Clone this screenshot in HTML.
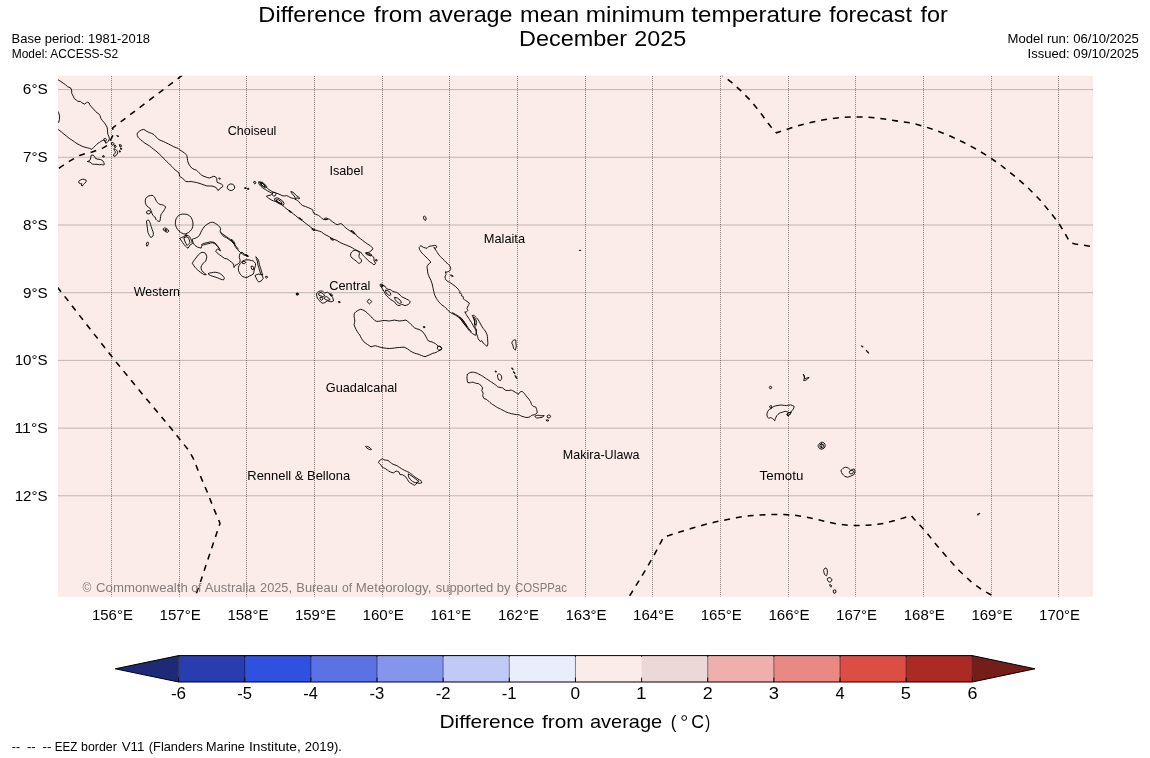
<!DOCTYPE html>
<html><head><meta charset="utf-8"><title>Difference from average mean minimum temperature forecast</title>
<style>
html,body{margin:0;padding:0;background:#fff;}
body{width:1150px;height:758px;overflow:hidden;font-family:"Liberation Sans",sans-serif;}
svg{display:block;}
svg text{font-family:"Liberation Sans",sans-serif;}
</style></head>
<body>
<svg width="1150" height="758" viewBox="0 0 1150 758">
<defs><clipPath id="mapclip"><rect x="58.0" y="75.8" width="1035.0" height="520.9"/></clipPath></defs>
<rect width="1150" height="758" fill="#fff"/>
<rect x="58.0" y="75.8" width="1035.0" height="520.9" fill="#fcece9"/>
<g clip-path="url(#mapclip)">
<line x1="58.0" x2="1093.0" y1="89.6" y2="89.6" stroke="#808080" stroke-opacity="0.5" stroke-width="1"/>
<line x1="58.0" x2="1093.0" y1="157.3" y2="157.3" stroke="#808080" stroke-opacity="0.5" stroke-width="1"/>
<line x1="58.0" x2="1093.0" y1="225.0" y2="225.0" stroke="#808080" stroke-opacity="0.5" stroke-width="1"/>
<line x1="58.0" x2="1093.0" y1="292.7" y2="292.7" stroke="#808080" stroke-opacity="0.5" stroke-width="1"/>
<line x1="58.0" x2="1093.0" y1="360.4" y2="360.4" stroke="#808080" stroke-opacity="0.5" stroke-width="1"/>
<line x1="58.0" x2="1093.0" y1="428.1" y2="428.1" stroke="#808080" stroke-opacity="0.5" stroke-width="1"/>
<line x1="58.0" x2="1093.0" y1="495.8" y2="495.8" stroke="#808080" stroke-opacity="0.5" stroke-width="1"/>
<line x1="111.5" x2="111.5" y1="76" y2="596.7" stroke="#2a2020" stroke-opacity="0.55" stroke-width="1" stroke-dasharray="1 1"/>
<line x1="179.5" x2="179.5" y1="76" y2="596.7" stroke="#2a2020" stroke-opacity="0.55" stroke-width="1" stroke-dasharray="1 1"/>
<line x1="246.5" x2="246.5" y1="76" y2="596.7" stroke="#2a2020" stroke-opacity="0.55" stroke-width="1" stroke-dasharray="1 1"/>
<line x1="314.5" x2="314.5" y1="76" y2="596.7" stroke="#2a2020" stroke-opacity="0.55" stroke-width="1" stroke-dasharray="1 1"/>
<line x1="382.5" x2="382.5" y1="76" y2="596.7" stroke="#2a2020" stroke-opacity="0.55" stroke-width="1" stroke-dasharray="1 1"/>
<line x1="449.5" x2="449.5" y1="76" y2="596.7" stroke="#2a2020" stroke-opacity="0.55" stroke-width="1" stroke-dasharray="1 1"/>
<line x1="517.5" x2="517.5" y1="76" y2="596.7" stroke="#2a2020" stroke-opacity="0.55" stroke-width="1" stroke-dasharray="1 1"/>
<line x1="585.5" x2="585.5" y1="76" y2="596.7" stroke="#2a2020" stroke-opacity="0.55" stroke-width="1" stroke-dasharray="1 1"/>
<line x1="652.5" x2="652.5" y1="76" y2="596.7" stroke="#2a2020" stroke-opacity="0.55" stroke-width="1" stroke-dasharray="1 1"/>
<line x1="720.5" x2="720.5" y1="76" y2="596.7" stroke="#2a2020" stroke-opacity="0.55" stroke-width="1" stroke-dasharray="1 1"/>
<line x1="788.5" x2="788.5" y1="76" y2="596.7" stroke="#2a2020" stroke-opacity="0.55" stroke-width="1" stroke-dasharray="1 1"/>
<line x1="855.5" x2="855.5" y1="76" y2="596.7" stroke="#2a2020" stroke-opacity="0.55" stroke-width="1" stroke-dasharray="1 1"/>
<line x1="923.5" x2="923.5" y1="76" y2="596.7" stroke="#2a2020" stroke-opacity="0.55" stroke-width="1" stroke-dasharray="1 1"/>
<line x1="991.5" x2="991.5" y1="76" y2="596.7" stroke="#2a2020" stroke-opacity="0.55" stroke-width="1" stroke-dasharray="1 1"/>
<line x1="1058.5" x2="1058.5" y1="76" y2="596.7" stroke="#2a2020" stroke-opacity="0.55" stroke-width="1" stroke-dasharray="1 1"/>
<path d="M57.0,79.1 L60.5,81.3 L63.1,83.1 L65.7,84.8 L67.4,86.6 L70.6,87.9 L71.6,90.0 L71.8,93.5 L73.2,96.1 L74.4,98.7 L76.5,100.3 L77.9,101.4 L80.5,101.4 L82.2,103.1 L84.8,104.1 L86.2,102.8 L87.5,102.1 L89.2,103.1 L89.7,104.8 L91.5,106.9 L93.6,109.2 L95.6,111.5 L97.0,112.7 L98.8,113.9 L100.0,115.6 L100.9,118.4 L102.3,120.5 L104.4,122.8 L105.7,124.9 L107.0,127.1 L107.5,129.2 L107.5,131.8 L108.0,134.5 L108.9,136.7 L109.4,138.8 L108.5,141.1 L107.1,142.5 L105.7,143.2 L105.1,141.1 L103.7,140.0 L102.3,140.6 L100.9,141.4 L99.7,142.3 L98.1,143.2 L96.7,144.4 L95.3,145.8 L93.6,147.5 L91.8,149.4 L89.7,148.4 L87.5,147.9 L84.8,147.2 L82.2,146.3 L79.6,144.9 L77.0,143.7 L74.4,141.8 L71.8,140.0 L69.2,138.3 L66.6,136.2 L63.9,134.1 L61.3,131.8 L58.7,129.8 L57.0,128.4" fill="none" stroke="#000" stroke-width="0.92" stroke-linejoin="round"/>
<path d="M57.0,110.4 L58.7,112.7 L59.6,116.2 L59.4,119.7 L58.7,122.3 L57.0,123.7" fill="none" stroke="#000" stroke-width="0.92" stroke-linejoin="round"/>
<path d="M111.3,142.8 L113.1,142.5 L114.1,143.9 L113.1,145.3 L111.7,144.9Z" fill="none" stroke="#000" stroke-width="0.92" stroke-linejoin="round"/>
<path d="M114.8,144.9 L116.2,146.0 L115.5,147.7 L114.1,147.0Z" fill="none" stroke="#000" stroke-width="0.92" stroke-linejoin="round"/>
<path d="M113.8,148.7 L115.5,149.4 L116.9,150.5 L117.9,151.9 L117.2,154.0 L115.9,155.7 L114.1,156.4 L113.4,155.0 L114.8,153.6 L115.5,151.9 L114.5,150.5Z" fill="none" stroke="#000" stroke-width="0.92" stroke-linejoin="round"/>
<path d="M119.3,144.6 L121.1,144.9 L121.4,146.7 L120.0,147.0Z" fill="none" stroke="#000" stroke-width="0.92" stroke-linejoin="round"/>
<path d="M120.4,148.0 L121.8,148.7 L121.1,149.8Z" fill="none" stroke="#000" stroke-width="0.92" stroke-linejoin="round"/>
<path d="M116.7,135.5 L118.8,136.2 L117.9,136.9Z" fill="none" stroke="#000" stroke-width="0.92" stroke-linejoin="round"/>
<path d="M119.3,150.5 L120.7,151.5 L119.7,152.2Z" fill="none" stroke="#000" stroke-width="0.92" stroke-linejoin="round"/>
<path d="M103.7,139.0 L105.4,138.3 L106.4,139.7 L105.7,141.4 L104.4,141.1Z" fill="none" stroke="#000" stroke-width="0.92" stroke-linejoin="round"/>
<path d="M91.1,155.4 L92.9,155.0 L94.6,156.6 L95.6,158.5 L97.9,159.2 L100.5,159.5 L102.6,160.6 L103.7,162.3 L104.4,164.4 L103.0,165.1 L101.6,164.4 L99.7,164.8 L97.0,164.3 L94.4,164.3 L92.5,164.1 L91.1,163.0 L89.7,162.0 L87.3,161.5 L89.4,160.8 L90.4,159.2 L90.8,157.1Z" fill="none" stroke="#000" stroke-width="0.92" stroke-linejoin="round"/>
<path d="M102.3,156.1 L104.0,155.7 L104.4,156.8 L103.0,157.1Z" fill="none" stroke="#000" stroke-width="0.92" stroke-linejoin="round"/>
<path d="M78.6,181.5 L80.3,180.1 L82.4,179.2 L84.5,179.4 L86.1,180.1 L86.2,181.7 L84.8,183.2 L83.4,184.6 L82.4,186.0 L81.0,185.0 L82.1,183.9 L80.3,183.6 L78.9,182.9Z" fill="none" stroke="#000" stroke-width="0.92" stroke-linejoin="round"/>
<path d="M137.1,133.8 L138.3,132.0 L139.9,130.8 L141.6,129.9 L143.4,129.4 L145.1,130.1 L146.2,131.0 L147.9,131.8 L149.7,132.7 L151.7,133.4 L153.8,134.5 L155.2,135.9 L156.3,137.2 L157.7,138.6 L159.1,139.7 L161.1,140.6 L163.2,141.4 L165.7,142.6 L168.5,144.0 L171.1,145.3 L173.7,146.7 L176.1,147.7 L178.2,148.4 L179.6,149.8 L181.0,150.7 L182.8,151.9 L184.5,152.9 L185.9,154.3 L186.9,155.7 L187.3,158.2 L187.6,160.6 L188.3,163.0 L189.4,165.1 L190.8,166.9 L192.2,168.4 L194.3,169.5 L196.3,170.2 L197.7,171.4 L199.1,172.8 L200.5,174.2 L201.9,175.4 L204.0,176.3 L206.1,177.1 L207.8,177.7 L209.6,178.0 L211.7,177.1 L213.8,176.3 L215.5,176.8 L216.6,178.2 L216.9,180.5 L217.2,182.4 L219.3,183.2 L221.4,184.1 L222.8,185.3 L222.5,186.9 L221.1,187.8 L219.9,188.5 L219.0,189.9 L217.9,190.4 L216.9,188.8 L216.2,187.6 L214.1,186.7 L212.0,186.0 L209.4,186.0 L206.8,185.9 L204.2,185.0 L201.6,184.1 L199.0,183.2 L196.3,182.5 L193.7,182.0 L191.1,181.5 L188.5,181.7 L185.9,181.5 L184.1,179.8 L182.4,178.2 L180.7,177.1 L179.6,176.1 L179.3,174.2 L178.9,172.8 L177.2,171.4 L175.4,170.2 L173.7,168.4 L172.0,166.7 L170.2,164.9 L168.5,163.2 L166.7,161.5 L165.0,159.7 L163.2,158.0 L161.5,156.2 L159.8,154.5 L158.0,152.8 L155.9,151.0 L153.7,149.3 L151.4,147.5 L149.3,145.8 L147.0,144.4 L144.9,143.2 L142.7,141.4 L140.6,139.7 L139.0,138.3 L138.0,137.1 L137.3,135.5Z" fill="none" stroke="#000" stroke-width="0.92" stroke-linejoin="round"/>
<path d="M218.6,178.0 L220.4,178.4 L219.7,179.4Z" fill="none" stroke="#000" stroke-width="0.92" stroke-linejoin="round"/>
<path d="M227.7,185.7 L229.1,184.5 L230.8,183.9 L232.6,184.3 L234.0,185.3 L234.7,187.1 L234.3,188.8 L232.9,190.0 L231.2,190.6 L229.4,190.2 L228.0,189.2 L227.2,187.6Z" fill="none" stroke="#000" stroke-width="0.92" stroke-linejoin="round"/>
<path d="M244.4,187.8 L245.8,187.4 L246.2,188.5 L244.8,188.6Z" fill="none" stroke="#000" stroke-width="0.92" stroke-linejoin="round"/>
<path d="M247.2,188.5 L248.6,188.1 L249.0,189.2 L247.6,189.5Z" fill="none" stroke="#000" stroke-width="0.92" stroke-linejoin="round"/>
<path d="M258.7,181.7 L260.5,182.1 L262.2,183.1 L263.9,184.8 L265.7,186.6 L267.4,188.3 L269.2,189.7 L271.3,191.1 L273.5,192.3 L275.8,193.0 L277.9,193.6 L280.0,194.6 L282.2,195.6 L284.5,196.0 L286.6,195.6 L288.3,196.3 L290.1,197.4 L291.8,198.1 L293.6,198.4 L294.9,199.1 L296.3,199.8 L297.7,200.7 L298.8,201.6 L300.5,203.7 L302.3,205.4 L304.0,206.1 L305.7,206.6 L307.8,207.5 L310.1,208.4 L311.7,209.1 L312.7,210.1 L313.1,211.7 L313.6,213.1 L315.3,214.1 L317.1,214.8 L318.5,215.5 L319.7,216.2 L321.1,217.6 L322.3,218.8 L324.0,219.5 L325.8,219.7 L327.2,219.0 L328.4,218.8 L329.8,219.5 L331.0,220.6 L332.8,222.0 L334.5,223.2 L335.7,224.0 L337.1,224.6 L338.9,224.2 L340.6,223.5 L342.0,224.2 L343.2,225.3 L344.6,226.7 L345.8,228.0 L347.6,229.3 L349.3,230.5 L351.0,231.4 L352.8,231.9 L354.2,232.9 L355.4,234.0 L356.3,235.0 L357.1,236.2 L358.9,237.6 L360.6,238.9 L362.4,240.2 L364.1,241.5 L365.9,242.9 L367.6,244.1 L369.0,244.9 L370.2,245.8 L371.6,247.0 L373.0,248.4 L372.0,250.0 L370.9,251.0 L369.7,251.9 L368.5,252.4 L367.1,252.8 L365.7,252.8 L367.1,253.8 L368.5,254.5 L369.9,254.9 L371.3,255.4 L372.5,256.3 L373.7,257.1 L374.0,258.9 L374.0,260.6 L374.7,262.0 L375.6,263.2 L374.9,264.3 L373.9,264.8 L372.8,263.9 L372.0,263.2 L370.6,262.4 L369.3,261.5 L367.9,260.3 L366.7,258.9 L365.3,257.5 L364.1,256.3 L363.2,255.4 L362.4,254.5 L361.8,253.7 L361.5,252.8 L360.1,252.1 L358.9,251.4 L356.6,250.3 L354.5,249.3 L352.4,247.9 L350.2,246.7 L347.9,245.8 L345.8,244.9 L343.7,244.1 L341.5,243.2 L339.2,242.0 L337.1,240.6 L335.0,239.7 L332.8,238.9 L331.0,237.8 L329.3,236.8 L327.0,235.5 L324.9,234.5 L323.2,233.3 L321.4,231.9 L319.3,231.2 L317.1,230.5 L315.3,230.0 L313.6,229.3 L311.8,228.0 L310.1,226.7 L308.4,225.4 L306.6,224.0 L304.4,222.3 L302.3,220.6 L300.5,219.3 L298.8,218.3 L297.0,216.9 L295.3,215.3 L293.6,214.1 L291.8,212.7 L290.1,211.3 L288.3,210.1 L286.6,208.9 L284.8,207.5 L283.4,206.1 L282.2,204.9 L280.5,203.5 L278.7,202.3 L277.0,201.7 L275.3,201.4 L273.5,200.9 L271.8,200.2 L270.0,199.1 L268.3,197.9 L267.2,197.0 L266.4,196.2 L268.1,195.6 L270.0,195.3 L271.4,194.6 L272.8,193.6 L270.9,192.7 L269.2,191.8 L267.4,190.8 L265.7,189.7 L263.9,188.7 L262.2,187.5 L260.8,186.2 L259.6,184.8 L258.7,183.1Z" fill="none" stroke="#000" stroke-width="0.92" stroke-linejoin="round"/>
<path d="M259.8,182.4 L262.2,182.1 L264.6,184.1 L266.7,186.6 L265.7,188.0 L263.2,186.6 L260.8,184.8Z" fill="none" stroke="#000" stroke-width="0.92" stroke-linejoin="round"/>
<path d="M260.8,183.4 L262.9,183.4 L265.0,185.5 L264.3,186.9 L262.2,185.5Z" fill="none" stroke="#000" stroke-width="0.92" stroke-linejoin="round"/>
<path d="M253.8,181.7 L255.2,181.4 L255.9,182.8 L254.9,184.1 L253.8,183.1Z" fill="none" stroke="#000" stroke-width="0.92" stroke-linejoin="round"/>
<path d="M274.4,198.8 L277.0,197.7 L280.0,199.1 L282.8,201.2 L284.1,203.7 L283.1,205.4 L280.7,204.4 L277.9,203.0 L275.4,201.2Z" fill="none" stroke="#000" stroke-width="0.92" stroke-linejoin="round"/>
<path d="M276.1,199.8 L278.6,199.8 L281.4,201.9 L282.1,203.7 L279.6,203.0 L277.2,201.6Z" fill="none" stroke="#000" stroke-width="0.92" stroke-linejoin="round"/>
<path d="M272.6,192.5 L274.7,192.2 L276.1,193.6 L275.4,195.6 L273.7,196.3 L272.3,194.6Z" fill="none" stroke="#000" stroke-width="0.92" stroke-linejoin="round"/>
<path d="M290.8,191.5 L292.9,192.2 L294.9,193.9 L296.3,195.6 L298.1,196.7 L299.8,198.1 L298.8,198.8 L296.7,197.7 L295.6,199.1 L294.9,197.0 L293.2,194.9 L291.5,192.9Z" fill="none" stroke="#000" stroke-width="0.92" stroke-linejoin="round"/>
<path d="M288.7,210.3 L290.4,211.0 L291.5,212.4 L289.7,212.0Z" fill="none" stroke="#000" stroke-width="0.92" stroke-linejoin="round"/>
<path d="M298.8,217.6 L300.9,218.6 L302.3,220.0 L300.5,219.7Z" fill="none" stroke="#000" stroke-width="0.92" stroke-linejoin="round"/>
<path d="M311.7,228.7 L313.8,229.1 L315.2,230.1 L313.1,230.5Z" fill="none" stroke="#000" stroke-width="0.92" stroke-linejoin="round"/>
<path d="M330.5,238.5 L332.6,238.9 L333.6,240.2 L331.5,239.9Z" fill="none" stroke="#000" stroke-width="0.92" stroke-linejoin="round"/>
<path d="M324.6,218.3 L326.7,217.9 L327.7,219.3 L325.6,219.7Z" fill="none" stroke="#000" stroke-width="0.92" stroke-linejoin="round"/>
<path d="M351.0,230.5 L353.1,231.2 L354.2,232.6 L355.2,234.0 L353.5,233.6 L351.7,232.2Z" fill="none" stroke="#000" stroke-width="0.92" stroke-linejoin="round"/>
<path d="M375.4,259.8 L376.8,259.4 L377.2,260.8 L375.8,261.1Z" fill="none" stroke="#000" stroke-width="0.92" stroke-linejoin="round"/>
<path d="M352.8,251.0 L354.2,250.5 L355.6,250.3 L357.0,250.7 L358.2,251.2 L359.1,252.3 L359.4,253.7 L359.1,255.1 L358.9,256.3 L359.4,257.7 L360.3,258.9 L361.5,259.8 L361.5,261.1 L360.8,262.4 L359.8,263.2 L358.4,263.2 L357.3,262.2 L356.3,261.1 L354.9,260.1 L353.5,259.1 L352.1,258.0 L351.0,256.6 L350.5,255.2 L350.7,253.8 L351.4,252.4Z" fill="none" stroke="#000" stroke-width="0.92" stroke-linejoin="round"/>
<path d="M365.7,253.1 L367.8,252.8 L370.2,253.8 L372.0,255.2 L370.6,255.9 L368.5,255.2 L366.7,254.5Z" fill="none" stroke="#000" stroke-width="0.92" stroke-linejoin="round"/>
<path d="M423.5,216.6 L424.7,216.2 L425.8,217.2 L426.1,219.0 L425.6,220.4 L424.4,220.0 L423.7,218.6Z" fill="none" stroke="#000" stroke-width="0.92" stroke-linejoin="round"/>
<path d="M145.8,198.3 L147.2,196.9 L148.7,196.0 L150.5,195.5 L152.2,195.3 L153.4,196.0 L154.5,197.1 L155.2,198.5 L155.7,200.0 L156.6,201.4 L157.5,202.6 L158.7,203.7 L160.1,204.4 L161.8,204.7 L163.6,205.3 L164.8,206.0 L165.6,207.0 L165.1,208.4 L164.4,209.6 L163.6,211.0 L162.7,212.2 L161.8,213.4 L160.9,214.8 L160.6,216.6 L160.4,218.3 L160.1,220.1 L159.7,221.5 L158.5,221.3 L157.5,220.9 L156.6,220.1 L155.7,219.2 L155.5,217.5 L154.0,216.6 L153.1,215.4 L152.2,214.0 L151.5,212.2 L151.0,210.5 L150.3,209.1 L149.6,207.9 L148.2,207.2 L147.0,206.1 L146.0,204.6 L145.3,202.6 L145.3,200.4Z" fill="none" stroke="#000" stroke-width="0.92" stroke-linejoin="round"/>
<path d="M146.5,211.7 L147.9,210.7 L149.6,210.7 L150.7,212.1 L150.0,213.4 L148.2,214.0 L146.7,213.3Z" fill="none" stroke="#000" stroke-width="0.92" stroke-linejoin="round"/>
<path d="M146.5,220.9 L147.5,220.2 L148.7,220.1 L149.4,221.3 L150.0,222.7 L150.5,224.4 L151.0,226.2 L151.7,227.9 L152.2,229.7 L152.9,231.4 L153.4,233.1 L153.3,234.7 L152.8,236.1 L151.9,237.0 L151.0,237.5 L150.0,236.6 L149.3,235.4 L148.6,233.8 L147.9,232.3 L147.7,230.5 L147.5,228.8 L147.2,226.9 L147.0,224.9 L146.7,222.9Z" fill="none" stroke="#000" stroke-width="0.92" stroke-linejoin="round"/>
<path d="M146.7,242.7 L147.9,242.0 L148.6,243.4 L147.9,245.5 L146.8,246.2 L146.3,244.5Z" fill="none" stroke="#000" stroke-width="0.92" stroke-linejoin="round"/>
<path d="M163.2,228.8 L164.6,227.9 L166.3,228.3 L167.9,229.5 L168.8,231.2 L167.7,232.3 L166.0,231.9 L164.4,231.0 L163.4,230.0Z" fill="none" stroke="#000" stroke-width="0.92" stroke-linejoin="round"/>
<path d="M164.9,229.5 L166.3,229.5 L167.0,230.9 L165.6,230.9Z" fill="none" stroke="#000" stroke-width="0.92" stroke-linejoin="round"/>
<path d="M184.1,214.1 L186.2,214.3 L187.9,214.8 L189.7,215.9 L191.1,217.5 L192.1,219.5 L192.8,221.8 L193.0,224.1 L192.8,226.2 L192.3,228.1 L191.4,229.7 L190.2,231.0 L188.8,232.3 L187.1,233.3 L185.3,234.0 L183.6,233.8 L181.8,233.1 L180.3,232.1 L178.9,230.9 L177.7,229.5 L176.6,227.9 L175.9,226.2 L175.4,224.4 L175.4,222.2 L175.7,220.1 L176.4,218.2 L177.5,216.6 L178.9,215.4 L180.6,214.5 L182.4,214.1Z" fill="none" stroke="#000" stroke-width="0.92" stroke-linejoin="round"/>
<path d="M179.6,238.4 L181.7,237.5 L183.8,236.6 L185.5,235.7 L187.2,235.4 L188.6,235.9 L189.7,236.8 L190.6,238.4 L191.4,240.1 L192.0,241.8 L192.3,243.6 L191.1,244.5 L189.7,245.3 L189.0,246.7 L188.1,248.1 L186.9,247.6 L185.5,246.2 L184.1,244.5 L182.7,242.7 L181.8,241.3 L181.0,240.1Z" fill="none" stroke="#000" stroke-width="0.92" stroke-linejoin="round"/>
<path d="M183.8,237.8 L186.2,236.8 L188.3,237.5 L189.3,239.9 L190.0,242.7 L188.6,244.1 L187.2,245.5 L185.9,243.4 L184.8,241.0Z" fill="none" stroke="#000" stroke-width="0.92" stroke-linejoin="round"/>
<path d="M184.8,235.4 L186.2,234.7 L187.2,235.4 L186.2,236.1Z" fill="none" stroke="#000" stroke-width="0.92" stroke-linejoin="round"/>
<path d="M192.3,239.2 L193.5,238.7 L194.9,238.4 L196.7,237.5 L198.4,236.6 L199.6,235.1 L200.5,233.1 L201.5,230.9 L202.8,228.8 L204.0,227.0 L205.4,225.6 L207.1,224.3 L208.9,223.2 L210.6,222.5 L212.3,222.2 L214.1,222.7 L215.5,223.6 L217.0,224.4 L218.4,225.6 L219.7,227.0 L220.7,228.8 L220.2,230.5 L220.3,232.3 L221.6,234.0 L222.8,235.7 L224.5,236.8 L226.3,237.5 L228.0,238.7 L229.8,240.1 L231.5,241.3 L233.2,242.7 L234.3,244.5 L235.0,246.2 L236.2,247.9 L237.6,249.7 L239.0,251.1 L240.2,252.3 L242.0,253.7 L243.7,254.9 L245.8,255.6 L248.0,256.0 L246.1,254.9 L244.0,253.9 L242.0,252.1 L240.2,253.2 L239.5,255.3 L239.3,257.5 L239.9,259.3 L240.2,261.0 L239.5,262.4 L238.5,263.6 L236.7,264.7 L235.0,265.4 L234.6,266.6 L234.1,267.5 L233.6,265.5 L233.2,263.6 L231.5,262.2 L229.8,261.0 L228.9,260.1 L228.0,259.3 L226.3,258.7 L224.5,258.4 L222.8,257.2 L221.0,255.8 L219.7,254.9 L218.4,254.0 L217.0,252.8 L215.8,251.4 L216.5,249.9 L217.6,248.8 L219.0,249.9 L220.5,250.9 L219.5,249.0 L218.4,247.1 L217.2,245.7 L215.8,244.5 L214.1,243.4 L212.3,242.7 L210.6,243.1 L208.9,243.6 L207.1,243.9 L205.4,244.5 L203.6,244.8 L201.9,245.3 L201.5,246.7 L201.2,248.1 L199.3,247.6 L197.5,247.1 L196.1,246.2 L194.9,245.3 L193.9,244.1 L193.2,242.7 L192.6,241.0Z" fill="none" stroke="#000" stroke-width="0.92" stroke-linejoin="round"/>
<path d="M201.2,244.8 L203.6,243.4 L207.1,242.7 L210.6,241.8 L214.1,242.4 L216.2,244.1 L217.6,246.6 L219.3,248.6" fill="none" stroke="#000" stroke-width="0.92" stroke-linejoin="round"/>
<path d="M220.7,232.3 L223.1,234.4 L226.6,236.8 L230.5,239.6 L233.6,242.4 L235.7,245.9 L238.5,249.3" fill="none" stroke="#000" stroke-width="0.92" stroke-linejoin="round"/>
<path d="M231.5,239.2 L233.6,241.3 L235.0,243.8 L233.2,243.1 L231.8,241.0Z" fill="none" stroke="#000" stroke-width="0.92" stroke-linejoin="round"/>
<path d="M238.5,267.1 L239.2,265.4 L240.2,263.6 L241.4,262.2 L242.8,261.0 L244.6,260.1 L246.3,259.8 L248.0,259.8 L249.8,260.1 L251.5,260.5 L253.3,261.0 L254.5,262.2 L255.5,263.6 L255.5,265.4 L255.0,267.1 L254.5,268.9 L254.1,270.6 L253.8,272.3 L253.3,274.1 L251.5,275.1 L249.8,275.8 L248.0,276.9 L246.3,277.6 L244.6,277.2 L242.8,276.7 L241.4,275.5 L240.2,274.1 L239.2,272.3 L238.5,270.6 L238.3,268.9Z" fill="none" stroke="#000" stroke-width="0.92" stroke-linejoin="round"/>
<path d="M242.0,261.9 L244.0,261.2 L245.8,262.2 L244.7,263.6 L242.6,263.6Z" fill="none" stroke="#000" stroke-width="0.92" stroke-linejoin="round"/>
<path d="M251.0,266.4 L252.8,266.1 L253.8,267.8 L253.1,269.9 L251.7,269.2Z" fill="none" stroke="#000" stroke-width="0.92" stroke-linejoin="round"/>
<path d="M255.0,275.5 L256.8,274.6 L258.5,274.1 L260.4,274.4 L262.0,274.9 L262.7,276.7 L263.2,278.4 L262.2,279.8 L261.1,281.0 L259.7,281.6 L258.5,281.9 L257.6,280.7 L256.8,279.3 L255.9,277.4Z" fill="none" stroke="#000" stroke-width="0.92" stroke-linejoin="round"/>
<path d="M255.9,256.7 L257.3,258.4 L258.5,260.1 L259.0,262.2 L259.4,264.5 L260.1,266.8 L260.8,268.9 L261.5,271.1 L262.0,273.2 L262.9,274.9 L261.6,274.6 L260.8,274.1 L260.1,272.0 L259.4,269.7 L258.7,267.5 L258.0,265.4 L257.6,263.1 L257.3,261.0 L256.4,258.7Z" fill="none" stroke="#000" stroke-width="0.92" stroke-linejoin="round"/>
<path d="M265.6,276.5 L267.0,276.2 L267.7,277.2 L266.7,278.1 L265.6,277.6Z" fill="none" stroke="#000" stroke-width="0.92" stroke-linejoin="round"/>
<path d="M245.8,254.9 L247.5,255.3 L248.6,256.3 L246.8,256.3Z" fill="none" stroke="#000" stroke-width="0.92" stroke-linejoin="round"/>
<path d="M192.3,263.3 L193.5,261.2 L194.9,259.3 L196.7,257.0 L198.4,254.9 L200.1,253.3 L201.9,252.3 L203.8,252.5 L205.4,253.2 L206.2,254.9 L206.8,256.7 L206.4,258.9 L205.7,261.0 L204.3,262.4 L202.8,263.6 L201.7,265.4 L201.0,267.1 L201.2,268.9 L201.9,270.6 L203.1,272.0 L204.5,273.2 L205.5,273.9 L206.4,274.6 L205.0,274.8 L203.6,274.4 L202.1,273.4 L200.5,272.3 L198.9,271.1 L197.5,269.7 L196.1,268.5 L194.9,267.1 L193.5,265.2Z" fill="none" stroke="#000" stroke-width="0.92" stroke-linejoin="round"/>
<path d="M208.0,273.7 L209.7,273.0 L211.5,272.7 L213.6,272.3 L215.8,272.3 L217.6,272.7 L219.3,273.2 L220.7,274.1 L221.9,274.9 L223.1,276.2 L224.2,277.6 L224.2,278.8 L223.7,279.7 L222.3,279.7 L221.0,279.3 L219.3,278.6 L217.6,277.9 L215.8,277.2 L214.1,276.7 L212.3,276.2 L210.6,275.5 L209.2,274.8Z" fill="none" stroke="#000" stroke-width="0.92" stroke-linejoin="round"/>
<path d="M296.3,293.6 L297.7,293.2 L298.6,294.3 L297.4,295.2 L296.3,294.6Z" fill="none" stroke="#000" stroke-width="0.92" stroke-linejoin="round"/>
<path d="M354.5,313.1 L355.7,311.9 L357.1,310.9 L358.8,310.0 L360.6,309.3 L362.3,309.7 L364.0,310.5 L365.8,311.7 L367.5,313.1 L369.3,314.9 L371.0,316.6 L372.2,318.0 L373.6,319.2 L374.8,320.5 L376.2,321.3 L378.3,321.3 L380.6,321.0 L382.7,320.6 L384.9,320.5 L387.0,320.8 L389.3,321.0 L391.9,320.5 L394.5,320.1 L397.1,320.6 L399.8,321.0 L402.7,320.6 L405.9,320.1 L407.6,321.3 L409.3,322.7 L410.6,324.1 L412.0,325.3 L413.2,326.7 L414.6,327.9 L416.7,328.8 L418.9,329.3 L420.7,330.4 L422.4,331.4 L423.8,333.2 L425.0,334.9 L425.9,336.7 L426.8,338.4 L427.6,339.8 L428.5,341.0 L430.2,341.5 L432.0,341.9 L433.7,342.8 L435.5,343.6 L436.9,345.0 L438.1,346.2 L439.5,346.4 L440.9,346.9 L441.7,348.2 L441.6,349.5 L440.2,350.2 L439.0,350.6 L437.6,351.5 L436.3,352.3 L434.6,352.9 L432.9,353.2 L431.1,354.1 L429.4,354.9 L427.1,355.8 L425.0,356.7 L423.3,356.2 L421.5,355.5 L419.8,354.8 L418.0,354.1 L416.3,353.6 L414.6,353.2 L412.8,352.3 L411.1,351.5 L409.3,350.2 L407.6,348.9 L405.9,348.0 L404.1,347.1 L401.8,347.3 L399.8,347.5 L397.1,347.6 L394.5,348.0 L391.9,348.3 L389.3,348.5 L386.7,348.3 L384.1,348.0 L381.8,347.6 L379.7,347.1 L377.5,346.4 L375.4,345.7 L373.1,346.2 L371.0,346.8 L369.3,345.7 L367.5,344.5 L365.8,343.3 L364.0,341.9 L362.6,340.1 L361.4,338.4 L360.6,336.7 L359.7,334.9 L358.3,333.2 L357.1,331.4 L356.2,329.7 L355.3,327.9 L354.6,326.2 L354.1,324.5 L354.5,322.7 L354.8,321.0 L354.5,318.7 L354.1,316.6 L354.1,314.9Z" fill="none" stroke="#000" stroke-width="0.92" stroke-linejoin="round"/>
<path d="M437.4,346.8 L439.1,346.1 L440.9,346.9 L441.6,348.5 L440.5,349.9 L438.8,350.1 L437.4,348.9Z" fill="none" stroke="#000" stroke-width="0.92" stroke-linejoin="round"/>
<path d="M316.5,294.0 L317.5,292.4 L318.7,291.4 L320.5,291.0 L322.2,291.0 L323.6,292.1 L324.8,293.1 L326.2,292.6 L327.5,292.2 L329.2,293.4 L330.9,294.8 L331.8,296.2 L332.7,297.5 L333.2,299.2 L333.6,300.9 L332.2,301.5 L330.9,301.8 L329.2,301.3 L327.5,300.9 L326.1,301.8 L324.8,302.7 L323.4,303.0 L322.2,303.2 L320.8,302.2 L319.6,300.9 L318.6,299.7 L317.5,298.3 L316.8,296.2Z" fill="none" stroke="#000" stroke-width="0.92" stroke-linejoin="round"/>
<path d="M318.6,293.4 L321.0,292.4 L323.1,293.8 L324.8,295.5 L322.8,296.6 L320.7,295.9 L318.9,295.2Z" fill="none" stroke="#000" stroke-width="0.92" stroke-linejoin="round"/>
<path d="M324.1,297.3 L326.6,296.6 L328.7,298.0 L330.1,299.7 L328.0,300.4 L325.9,299.7 L324.5,298.7Z" fill="none" stroke="#000" stroke-width="0.92" stroke-linejoin="round"/>
<path d="M320.0,297.3 L322.1,297.3 L323.1,299.0 L321.4,300.4 L320.0,299.0Z" fill="none" stroke="#000" stroke-width="0.92" stroke-linejoin="round"/>
<path d="M329.7,294.1 L331.5,293.8 L332.5,295.5 L331.1,296.2Z" fill="none" stroke="#000" stroke-width="0.92" stroke-linejoin="round"/>
<path d="M338.4,301.5 L339.8,301.5 L340.2,302.5 L338.8,302.7Z" fill="none" stroke="#000" stroke-width="0.92" stroke-linejoin="round"/>
<path d="M296.3,293.4 L298.0,293.1 L298.4,294.5 L296.6,294.8Z" fill="none" stroke="#000" stroke-width="0.92" stroke-linejoin="round"/>
<path d="M369.3,299.2 L370.5,300.2 L371.7,301.5 L370.7,302.9 L369.4,303.9 L368.2,302.9 L367.2,301.6 L368.0,300.2Z" fill="none" stroke="#000" stroke-width="0.92" stroke-linejoin="round"/>
<path d="M381.5,285.3 L383.2,285.6 L384.9,286.1 L385.8,287.5 L386.7,288.7 L388.4,289.3 L390.2,289.6 L391.6,290.5 L392.8,291.4 L394.5,291.9 L396.3,292.2 L397.7,293.1 L398.9,294.0 L400.3,295.2 L401.5,296.6 L403.2,297.5 L405.0,298.3 L406.7,299.2 L408.5,300.1 L409.5,300.9 L410.2,301.8 L409.5,303.2 L408.5,304.4 L406.7,305.1 L405.0,305.6 L403.2,304.9 L401.5,304.4 L400.3,305.1 L398.9,305.6 L397.5,305.1 L396.3,304.4 L395.4,303.0 L394.5,301.8 L392.8,300.8 L391.0,299.7 L389.7,298.7 L388.4,297.5 L387.0,296.2 L385.8,294.8 L384.9,293.1 L384.1,291.4 L383.2,290.0 L382.3,288.7 L381.6,287.0Z" fill="none" stroke="#000" stroke-width="0.92" stroke-linejoin="round"/>
<path d="M385.5,290.0 L387.9,290.7 L390.0,292.4 L391.0,294.5 L389.3,295.5 L387.2,294.1 L385.8,292.1Z" fill="none" stroke="#000" stroke-width="0.92" stroke-linejoin="round"/>
<path d="M394.5,297.3 L397.3,298.0 L400.1,300.1 L401.5,302.5 L399.4,303.6 L397.0,301.8 L395.2,299.7Z" fill="none" stroke="#000" stroke-width="0.92" stroke-linejoin="round"/>
<path d="M380.2,284.4 L382.3,284.0 L383.4,285.8 L381.6,287.2 L380.2,286.1Z" fill="none" stroke="#000" stroke-width="0.92" stroke-linejoin="round"/>
<path d="M423.3,326.6 L424.8,326.6 L425.0,327.6 L423.4,327.6Z" fill="none" stroke="#000" stroke-width="0.92" stroke-linejoin="round"/>
<path d="M419.2,247.4 L420.0,246.4 L420.9,245.7 L422.1,246.5 L423.5,247.4 L425.2,247.9 L427.0,248.3 L427.9,247.4 L428.7,246.5 L429.9,246.2 L431.3,246.0 L433.1,245.7 L434.8,245.3 L436.0,245.8 L436.9,246.5 L436.4,247.6 L435.7,248.3 L434.8,247.8 L433.9,247.4 L434.8,248.8 L435.7,250.0 L436.6,251.4 L437.4,252.6 L438.3,254.0 L439.2,255.2 L440.4,256.6 L441.8,257.9 L443.0,259.2 L444.4,260.5 L445.6,261.9 L447.0,263.1 L448.4,264.5 L449.6,265.7 L450.3,267.1 L450.8,268.3 L450.3,269.7 L449.6,270.9 L448.2,271.6 L447.0,272.1 L446.1,272.0 L445.3,271.8 L445.8,273.2 L446.1,274.4 L445.4,275.8 L444.9,277.0 L445.3,278.4 L445.6,279.6 L446.7,280.5 L447.9,281.4 L448.7,281.9 L449.6,282.2 L450.8,283.1 L452.2,284.0 L454.0,285.4 L455.7,286.6 L456.9,288.0 L458.3,289.2 L459.2,290.6 L460.1,291.8 L459.5,293.0 L460.9,293.5 L461.8,294.4 L461.3,295.8 L462.7,296.2 L463.5,297.0 L463.0,298.4 L464.4,299.6 L465.6,300.5 L467.0,301.4 L468.1,302.2 L469.3,303.1 L468.8,304.5 L468.2,305.7 L467.5,307.1 L467.0,308.3 L467.4,309.4 L467.9,310.4 L467.0,311.3 L466.2,312.2 L465.5,312.0 L464.8,311.8 L465.5,313.2 L466.2,314.4 L467.0,315.8 L467.9,317.0 L468.8,318.4 L469.6,319.7 L470.5,321.1 L471.4,322.3 L472.2,323.8 L473.1,325.4 L474.0,327.0 L474.9,328.4 L475.6,330.1 L476.3,331.8 L476.1,333.6 L475.7,335.3 L474.9,335.0 L474.0,334.5 L472.6,333.6 L471.4,332.7 L470.0,331.5 L468.8,330.1 L467.4,328.4 L466.2,326.6 L464.8,324.9 L463.5,323.1 L462.2,321.4 L460.9,319.7 L459.5,318.3 L458.3,317.0 L456.9,316.2 L455.7,315.3 L454.0,314.4 L452.2,313.6 L450.8,312.7 L449.6,311.8 L448.2,310.6 L447.0,309.2 L445.6,307.8 L444.4,306.6 L443.0,305.7 L441.8,304.9 L440.4,303.6 L439.2,302.2 L437.8,300.5 L436.6,298.8 L435.7,297.0 L434.8,295.3 L434.3,293.5 L433.9,291.8 L433.4,290.1 L433.1,288.3 L432.6,286.2 L432.2,284.0 L431.5,282.2 L431.0,280.5 L430.1,278.7 L429.2,277.0 L428.6,275.3 L427.9,273.5 L427.7,271.8 L427.5,270.0 L427.2,268.3 L427.0,266.6 L427.9,265.2 L428.7,263.9 L429.8,263.1 L431.0,262.2 L429.8,261.0 L428.7,259.6 L427.3,258.4 L426.1,257.0 L424.7,255.8 L423.5,254.4 L422.1,253.2 L420.9,251.8 L420.2,250.5 L419.5,249.5Z" fill="none" stroke="#000" stroke-width="0.92" stroke-linejoin="round"/>
<path d="M452.2,312.5 L455.4,314.3 L458.8,316.4 L461.6,319.1 L464.1,322.3 L466.5,325.4 L468.9,328.9 L471.4,331.7" fill="none" stroke="#000" stroke-width="0.92" stroke-linejoin="round"/>
<path d="M459.2,317.0 L461.3,318.1 L463.4,320.5 L465.5,323.7 L467.2,326.8 L465.5,325.4 L463.4,322.6 L461.3,319.8Z" fill="none" stroke="#000" stroke-width="0.92" stroke-linejoin="round"/>
<path d="M450.5,274.9 L452.2,275.3 L453.3,276.3 L451.5,276.3Z" fill="none" stroke="#000" stroke-width="0.92" stroke-linejoin="round"/>
<path d="M472.2,315.7 L473.1,315.3 L474.0,315.3 L474.9,316.2 L475.7,317.0 L476.6,317.9 L477.5,318.8 L478.3,320.0 L479.2,321.4 L480.1,323.1 L481.0,324.9 L482.0,326.6 L483.2,328.4 L484.3,329.8 L485.3,331.0 L486.2,332.7 L487.0,334.5 L487.4,336.5 L487.6,338.8 L487.7,341.1 L487.9,343.2 L487.6,344.9 L487.0,346.3 L486.2,345.6 L485.3,344.9 L484.3,344.0 L483.2,343.2 L482.5,341.9 L481.8,340.6 L481.0,341.1 L480.1,341.4 L479.2,340.2 L478.3,338.8 L477.8,337.6 L477.5,336.2 L476.8,334.5 L476.3,332.7 L476.4,331.3 L476.6,330.1 L475.9,328.9 L475.2,327.5 L474.9,325.8 L474.5,324.0 L474.7,322.3 L474.9,320.5 L474.2,319.1 L473.5,317.9 L472.8,316.7Z" fill="none" stroke="#000" stroke-width="0.92" stroke-linejoin="round"/>
<path d="M473.1,317.0 L474.5,317.4 L475.9,319.8 L476.6,322.6 L475.9,325.4 L474.9,324.0 L474.5,321.2 L473.8,318.8Z" fill="none" stroke="#000" stroke-width="0.92" stroke-linejoin="round"/>
<path d="M512.3,341.4 L513.2,340.6 L514.0,340.0 L514.9,339.9 L515.8,340.0 L515.9,341.6 L515.9,343.2 L516.1,344.9 L516.3,346.6 L515.8,348.4 L515.3,350.1 L514.4,349.4 L513.5,348.4 L513.2,346.6 L512.8,344.9 L512.3,344.0 L511.8,343.2Z" fill="none" stroke="#000" stroke-width="0.92" stroke-linejoin="round"/>
<path d="M467.5,374.0 L468.6,373.3 L469.6,372.8 L470.8,372.4 L472.2,372.2 L473.4,372.2 L474.8,372.6 L476.1,372.9 L477.5,373.4 L478.7,374.1 L480.1,374.8 L481.3,375.5 L482.7,376.2 L483.9,377.1 L485.3,378.0 L486.5,378.9 L487.9,379.7 L489.1,380.6 L490.5,381.5 L491.7,382.3 L493.1,383.2 L494.4,384.1 L495.7,384.9 L496.6,385.8 L497.5,386.7 L498.7,387.2 L500.1,387.4 L501.3,387.6 L502.7,387.9 L503.9,389.0 L505.3,390.2 L507.1,390.5 L508.8,390.5 L510.0,390.2 L511.4,390.2 L512.6,390.7 L514.0,391.4 L515.3,392.3 L516.7,393.1 L517.5,393.8 L518.4,394.4 L519.1,393.1 L519.8,392.3 L520.8,391.6 L521.9,391.4 L522.8,391.9 L523.6,392.6 L524.5,393.7 L525.4,394.9 L526.2,395.9 L527.1,397.1 L528.0,398.2 L528.9,399.2 L529.7,400.5 L530.6,401.8 L531.1,403.1 L531.5,404.5 L532.3,405.5 L533.2,406.2 L534.4,406.7 L535.8,407.1 L536.3,408.3 L536.7,409.7 L537.0,410.9 L537.2,412.3 L536.7,413.3 L535.8,414.0 L534.9,414.6 L534.1,414.9 L532.7,415.1 L531.5,415.3 L530.8,416.0 L530.2,416.7 L528.7,417.2 L527.1,417.5 L525.7,417.4 L524.5,417.0 L523.1,416.7 L521.9,416.3 L520.5,415.6 L519.3,414.9 L517.9,414.7 L516.7,414.6 L514.9,414.4 L513.2,414.0 L511.4,413.7 L509.7,413.2 L508.3,412.8 L507.1,412.3 L505.7,411.8 L504.5,411.1 L503.1,410.4 L501.8,409.7 L500.5,409.0 L499.2,408.3 L497.8,407.8 L496.6,407.1 L495.2,406.2 L494.0,405.3 L492.6,404.5 L491.4,403.6 L490.0,402.5 L488.8,401.3 L487.4,400.3 L486.2,399.2 L484.9,398.9 L483.9,398.4 L483.2,397.1 L482.7,395.7 L482.9,394.4 L483.2,393.1 L482.5,391.9 L481.8,390.5 L482.2,389.1 L482.7,387.9 L481.8,386.7 L480.9,385.3 L479.5,384.4 L478.3,383.6 L476.9,383.4 L475.7,383.2 L474.3,382.7 L473.1,382.2 L471.7,382.3 L470.5,382.7 L469.1,382.7 L467.9,382.7 L467.4,381.3 L467.2,380.1 L467.0,378.3 L467.0,376.6 L467.2,375.2Z" fill="none" stroke="#000" stroke-width="0.92" stroke-linejoin="round"/>
<path d="M534.9,416.3 L536.2,415.6 L537.6,415.3 L539.3,415.4 L541.0,415.8 L542.8,415.6 L544.2,415.6 L543.5,416.5 L542.8,417.0 L541.0,417.5 L539.3,417.7 L537.9,418.0 L536.7,418.0 L535.6,417.4Z" fill="none" stroke="#000" stroke-width="0.92" stroke-linejoin="round"/>
<path d="M547.3,415.6 L548.7,414.9 L550.1,415.3 L550.6,416.7 L549.4,418.0 L548.0,418.0 L547.1,417.0Z" fill="none" stroke="#000" stroke-width="0.92" stroke-linejoin="round"/>
<path d="M545.9,420.1 L547.7,419.8 L548.9,420.5 L547.3,421.2Z" fill="none" stroke="#000" stroke-width="0.92" stroke-linejoin="round"/>
<path d="M497.5,374.8 L498.5,374.1 L499.6,374.0 L500.6,374.7 L501.3,375.7 L501.7,376.9 L501.7,378.3 L501.3,379.5 L500.6,380.4 L499.8,380.4 L498.9,380.1 L498.2,378.9 L497.8,377.5 L497.5,376.2Z" fill="none" stroke="#000" stroke-width="0.92" stroke-linejoin="round"/>
<path d="M495.1,371.0 L496.1,371.0 L496.4,372.1 L495.4,372.1Z" fill="none" stroke="#000" stroke-width="0.92" stroke-linejoin="round"/>
<path d="M511.6,367.9 L512.6,368.2 L513.3,369.6 L512.3,369.3Z" fill="none" stroke="#000" stroke-width="0.92" stroke-linejoin="round"/>
<path d="M513.3,371.5 L514.4,372.1 L515.1,373.6 L514.0,373.1Z" fill="none" stroke="#000" stroke-width="0.92" stroke-linejoin="round"/>
<path d="M514.9,375.5 L516.0,376.2 L517.2,378.5 L516.0,378.0Z" fill="none" stroke="#000" stroke-width="0.92" stroke-linejoin="round"/>
<path d="M378.4,462.4 L379.4,461.0 L380.3,459.9 L381.5,459.3 L382.6,458.9 L383.8,459.5 L384.9,460.1 L386.4,460.2 L388.0,460.4 L389.1,461.4 L390.3,462.4 L391.6,463.3 L393.1,464.3 L395.1,465.0 L397.0,465.6 L398.3,466.6 L399.8,467.5 L401.2,468.5 L402.7,469.4 L404.6,470.4 L406.5,471.3 L407.9,471.9 L409.4,472.5 L410.7,473.6 L412.3,474.8 L413.6,475.9 L415.1,477.1 L416.5,478.0 L418.0,479.0 L419.3,479.8 L420.9,480.5 L421.5,481.7 L421.8,482.8 L420.5,483.2 L419.3,483.4 L418.2,483.2 L417.1,482.8 L415.9,484.2 L414.8,485.3 L413.4,484.7 L412.3,484.0 L410.7,483.2 L409.4,482.4 L408.4,481.1 L407.5,479.6 L406.5,478.2 L405.6,476.7 L404.0,475.7 L402.7,474.8 L401.2,474.6 L399.8,474.4 L399.3,473.1 L398.9,471.9 L397.3,471.3 L396.0,471.0 L394.9,471.9 L393.7,472.9 L392.0,472.5 L390.3,471.9 L388.7,471.0 L387.4,470.0 L385.9,469.0 L384.5,468.1 L383.4,467.7 L382.2,467.1 L381.5,466.0 L380.7,464.8 L379.6,463.7Z" fill="none" stroke="#000" stroke-width="0.92" stroke-linejoin="round"/>
<path d="M408.4,473.8 L409.8,474.8 L411.3,475.7 L413.2,477.1 L415.1,478.6 L417.1,480.1 L419.0,481.5 L418.0,482.1 L417.1,482.4 L415.5,482.6 L414.2,482.4 L412.7,481.5 L411.3,480.5 L410.2,479.2 L409.0,477.7 L408.4,475.7Z" fill="none" stroke="#000" stroke-width="0.92" stroke-linejoin="round"/>
<path d="M365.4,446.5 L366.5,446.3 L367.7,446.5 L369.0,447.2 L370.2,448.0 L370.9,448.8 L371.5,449.5 L370.4,449.7 L369.2,449.5 L368.1,448.8 L366.9,448.0 L366.0,447.2Z" fill="none" stroke="#000" stroke-width="0.92" stroke-linejoin="round"/>
<path d="M767.0,413.4 L767.7,411.7 L768.5,410.2 L769.8,409.2 L771.2,408.5 L772.5,407.5 L773.8,406.4 L775.9,405.8 L778.0,405.4 L780.1,405.1 L782.2,405.1 L784.3,405.4 L786.4,405.6 L788.5,405.1 L790.7,404.9 L792.6,405.6 L794.2,406.4 L793.8,407.9 L793.2,409.2 L792.3,410.2 L791.7,411.3 L790.9,412.7 L790.2,414.0 L789.2,415.1 L788.1,416.1 L787.3,415.3 L786.9,414.4 L787.7,413.4 L788.5,412.3 L786.9,411.7 L785.4,411.3 L783.7,411.7 L782.2,412.3 L780.5,412.7 L779.1,413.4 L778.0,414.4 L776.9,415.5 L776.1,417.0 L775.5,418.2 L775.0,419.5 L774.8,420.8 L773.8,419.7 L772.7,418.7 L771.7,418.0 L770.6,417.6 L769.6,418.0 L768.5,418.2 L767.7,417.2 L767.0,416.1Z" fill="none" stroke="#000" stroke-width="0.92" stroke-linejoin="round"/>
<path d="M769.6,406.4 L770.8,405.6 L771.9,406.0 L771.5,408.1 L770.2,407.9Z" fill="none" stroke="#000" stroke-width="0.92" stroke-linejoin="round"/>
<path d="M786.9,414.0 L789.0,412.7 L791.1,411.9 L789.8,414.4 L788.1,416.1Z" fill="none" stroke="#000" stroke-width="0.92" stroke-linejoin="round"/>
<path d="M769.6,386.6 L770.8,386.1 L771.7,387.2 L771.2,388.5 L770.0,388.7 L769.3,387.6Z" fill="none" stroke="#000" stroke-width="0.92" stroke-linejoin="round"/>
<path d="M803.3,374.3 L804.0,376.0 L804.4,377.5 L804.0,379.2 L803.7,380.7 L804.8,380.4 L805.9,380.2 L806.9,379.4 L808.0,378.5 L809.2,377.5 L807.8,377.7 L806.5,378.1 L805.6,378.5 L805.0,379.0 L804.6,377.5 L804.4,376.0Z" fill="none" stroke="#000" stroke-width="0.92" stroke-linejoin="round"/>
<path d="M861.4,345.8 L862.4,346.0 L863.1,346.9 L861.8,346.7Z" fill="none" stroke="#000" stroke-width="0.92" stroke-linejoin="round"/>
<path d="M866.2,350.1 L867.5,351.1 L868.8,353.2 L867.3,352.4Z" fill="none" stroke="#000" stroke-width="0.92" stroke-linejoin="round"/>
<path d="M819.2,444.0 L820.2,442.9 L821.3,442.3 L822.7,442.3 L824.0,442.9 L824.9,444.2 L825.3,445.5 L824.9,446.9 L824.0,448.2 L822.7,448.8 L821.3,449.3 L820.0,448.6 L818.9,447.8 L818.3,446.7 L818.1,445.7 L818.5,444.6Z" fill="none" stroke="#000" stroke-width="0.92" stroke-linejoin="round"/>
<path d="M819.8,444.8 L821.5,444.0 L823.6,444.8 L824.0,446.5 L822.3,447.8 L820.2,446.9Z" fill="none" stroke="#000" stroke-width="0.92" stroke-linejoin="round"/>
<path d="M821.5,442.7 L821.9,445.7 L821.1,448.6" fill="none" stroke="#000" stroke-width="0.92" stroke-linejoin="round"/>
<path d="M840.9,470.4 L842.0,469.3 L843.0,468.3 L844.3,467.6 L845.5,467.2 L847.2,467.6 L848.7,468.3 L849.8,469.3 L850.8,470.4 L852.3,469.5 L854.0,468.9 L854.6,470.2 L855.0,471.4 L854.6,473.1 L854.0,474.6 L852.3,475.4 L850.8,476.1 L849.1,476.7 L847.7,477.3 L846.0,476.7 L844.5,476.1 L843.4,475.0 L842.4,474.0 L841.5,472.3Z" fill="none" stroke="#000" stroke-width="0.92" stroke-linejoin="round"/>
<path d="M849.8,471.0 L851.9,470.2 L853.6,471.4 L852.7,473.5 L850.6,474.0 L849.3,472.7Z" fill="none" stroke="#000" stroke-width="0.92" stroke-linejoin="round"/>
<path d="M823.6,570.4 L824.2,569.0 L825.0,568.1 L826.1,568.1 L826.9,568.8 L827.3,570.4 L827.4,572.3 L827.1,574.2 L826.5,575.7 L825.5,575.3 L824.6,574.6 L824.0,572.6Z" fill="none" stroke="#000" stroke-width="0.92" stroke-linejoin="round"/>
<path d="M827.4,578.4 L828.8,577.8 L830.1,577.6 L831.3,578.6 L832.0,579.9 L831.3,581.3 L830.1,582.2 L828.8,581.8 L827.8,580.9 L827.4,579.5Z" fill="none" stroke="#000" stroke-width="0.92" stroke-linejoin="round"/>
<path d="M829.7,584.7 L830.9,584.9 L831.7,585.7 L831.5,586.6 L830.9,587.2 L830.1,586.2Z" fill="none" stroke="#000" stroke-width="0.92" stroke-linejoin="round"/>
<path d="M833.2,590.4 L834.3,589.9 L835.5,589.9 L835.9,591.0 L835.9,592.4 L834.9,593.1 L834.0,593.3 L833.4,592.0Z" fill="none" stroke="#000" stroke-width="0.92" stroke-linejoin="round"/>
<path d="M977.1,514.5 L978.4,513.7 L979.9,513.3 L979.0,514.5 L977.8,515.1Z" fill="none" stroke="#000" stroke-width="0.92" stroke-linejoin="round"/>
<path d="M578.9,250.4 L581.2,250.4" fill="none" stroke="#000" stroke-width="0.92" stroke-linejoin="round"/>
<path d="M182.4,75.2 L112.6,128.0 L113.8,133.5 L111.0,139.2 L107.4,145.4 L103.1,147.9 L92.2,151.9 L84.8,153.8 L79.6,155.4 L70.0,160.9 L60.5,167.2 L55.2,170.7" fill="none" stroke="#000" stroke-width="1.55" stroke-dasharray="6 5.9"/>
<path d="M623.0,605.7 L626.8,600.0 L630.6,594.3 L638.3,581.8 L645.9,569.4 L653.6,556.0 L661.2,541.7 L663.7,536.9 L668.9,535.5 L680.4,531.7 L691.8,528.3 L703.3,525.0 L714.8,522.1 L726.3,519.7 L737.7,517.4 L749.2,515.8 L760.7,514.9 L772.2,514.5 L783.7,514.5 L795.1,515.3 L806.6,517.2 L818.1,519.7 L825.9,521.6 L837.4,524.1 L848.9,525.4 L860.4,525.6 L871.8,525.0 L883.3,523.5 L894.8,520.6 L904.4,517.7 L911.1,515.4 L913.9,518.7 L925.4,531.1 L936.9,545.5 L948.4,558.9 L959.8,571.3 L971.3,581.8 L982.8,590.4 L992.4,595.6 L1000.0,599.4" fill="none" stroke="#000" stroke-width="1.55" stroke-dasharray="6 5.9"/>
<path d="M718.2,72.3 L722.6,75.7 L730.6,81.5 L740.2,90.1 L749.7,99.7 L759.3,111.1 L767.0,121.7 L773.7,130.3 L776.5,132.8 L784.2,130.3 L795.7,126.4 L807.1,123.2 L818.6,120.7 L830.1,118.8 L841.6,117.4 L853.1,116.9 L864.5,116.9 L876.0,117.8 L887.5,119.4 L899.0,121.3 L912.7,123.2 L925.3,126.8 L938.0,131.2 L950.7,136.3 L963.3,142.2 L976.0,149.0 L988.7,156.6 L1001.3,165.5 L1014.0,175.6 L1026.7,186.6 L1039.3,199.2 L1049.9,211.9 L1058.3,222.5 L1064.7,233.0 L1070.0,242.5 L1075.2,244.0 L1083.7,245.3 L1093.2,246.7 L1100.6,247.8" fill="none" stroke="#000" stroke-width="1.55" stroke-dasharray="6 5.9"/>
<path d="M50.0,277.6 L58.0,287.9 L61.8,292.7 L88.0,326.3 L114.8,360.4 L142.5,394.2 L170.8,428.1 L189.1,450.9 L193.1,458.0 L199.8,474.6 L206.9,491.3 L214.0,509.1 L220.0,523.3 L214.0,541.2 L206.9,562.5 L199.8,583.9 L195.0,597.0 L193.1,602.9" fill="none" stroke="#000" stroke-width="1.55" stroke-dasharray="6 5.9"/>
</g>
<g>
<polygon points="178.6,655.6 115.2,668.8 178.6,682.0" fill="#1c2a78"/>
<polygon points="972.3,655.6 1035,668.8 972.3,682.0" fill="#751d18"/>
<rect x="178.60" y="655.6" width="66.44" height="26.40" fill="#283eb0"/>
<rect x="244.74" y="655.6" width="66.44" height="26.40" fill="#3050df"/>
<rect x="310.88" y="655.6" width="66.44" height="26.40" fill="#5a72e4"/>
<rect x="377.02" y="655.6" width="66.44" height="26.40" fill="#8496ec"/>
<rect x="443.17" y="655.6" width="66.44" height="26.40" fill="#c1c9f5"/>
<rect x="509.31" y="655.6" width="66.44" height="26.40" fill="#eaedfc"/>
<rect x="575.45" y="655.6" width="66.44" height="26.40" fill="#fcece9"/>
<rect x="641.59" y="655.6" width="66.44" height="26.40" fill="#ecd9d7"/>
<rect x="707.73" y="655.6" width="66.44" height="26.40" fill="#efb0ad"/>
<rect x="773.88" y="655.6" width="66.44" height="26.40" fill="#e88983"/>
<rect x="840.02" y="655.6" width="66.44" height="26.40" fill="#dc4d44"/>
<rect x="906.16" y="655.6" width="66.44" height="26.40" fill="#ab2a23"/>
<line x1="178.60" x2="178.60" y1="655.6" y2="682.0" stroke="#000" stroke-opacity="0.6" stroke-width="0.8"/>
<line x1="178.60" x2="178.60" y1="677.6" y2="682.0" stroke="#000" stroke-width="0.9"/>
<line x1="178.60" x2="178.60" y1="655.6" y2="656.8000000000001" stroke="#000" stroke-width="0.9"/>
<line x1="244.74" x2="244.74" y1="655.6" y2="682.0" stroke="#000" stroke-opacity="0.6" stroke-width="0.8"/>
<line x1="244.74" x2="244.74" y1="677.6" y2="682.0" stroke="#000" stroke-width="0.9"/>
<line x1="244.74" x2="244.74" y1="655.6" y2="656.8000000000001" stroke="#000" stroke-width="0.9"/>
<line x1="310.88" x2="310.88" y1="655.6" y2="682.0" stroke="#000" stroke-opacity="0.6" stroke-width="0.8"/>
<line x1="310.88" x2="310.88" y1="677.6" y2="682.0" stroke="#000" stroke-width="0.9"/>
<line x1="310.88" x2="310.88" y1="655.6" y2="656.8000000000001" stroke="#000" stroke-width="0.9"/>
<line x1="377.02" x2="377.02" y1="655.6" y2="682.0" stroke="#000" stroke-opacity="0.6" stroke-width="0.8"/>
<line x1="377.02" x2="377.02" y1="677.6" y2="682.0" stroke="#000" stroke-width="0.9"/>
<line x1="377.02" x2="377.02" y1="655.6" y2="656.8000000000001" stroke="#000" stroke-width="0.9"/>
<line x1="443.17" x2="443.17" y1="655.6" y2="682.0" stroke="#000" stroke-opacity="0.6" stroke-width="0.8"/>
<line x1="443.17" x2="443.17" y1="677.6" y2="682.0" stroke="#000" stroke-width="0.9"/>
<line x1="443.17" x2="443.17" y1="655.6" y2="656.8000000000001" stroke="#000" stroke-width="0.9"/>
<line x1="509.31" x2="509.31" y1="655.6" y2="682.0" stroke="#000" stroke-opacity="0.6" stroke-width="0.8"/>
<line x1="509.31" x2="509.31" y1="677.6" y2="682.0" stroke="#000" stroke-width="0.9"/>
<line x1="509.31" x2="509.31" y1="655.6" y2="656.8000000000001" stroke="#000" stroke-width="0.9"/>
<line x1="575.45" x2="575.45" y1="655.6" y2="682.0" stroke="#000" stroke-opacity="0.6" stroke-width="0.8"/>
<line x1="575.45" x2="575.45" y1="677.6" y2="682.0" stroke="#000" stroke-width="0.9"/>
<line x1="575.45" x2="575.45" y1="655.6" y2="656.8000000000001" stroke="#000" stroke-width="0.9"/>
<line x1="641.59" x2="641.59" y1="677.6" y2="682.0" stroke="#000" stroke-width="0.9"/>
<line x1="641.59" x2="641.59" y1="655.6" y2="656.8000000000001" stroke="#000" stroke-width="0.9"/>
<line x1="707.73" x2="707.73" y1="655.6" y2="682.0" stroke="#000" stroke-opacity="0.6" stroke-width="0.8"/>
<line x1="707.73" x2="707.73" y1="677.6" y2="682.0" stroke="#000" stroke-width="0.9"/>
<line x1="707.73" x2="707.73" y1="655.6" y2="656.8000000000001" stroke="#000" stroke-width="0.9"/>
<line x1="773.88" x2="773.88" y1="655.6" y2="682.0" stroke="#000" stroke-opacity="0.6" stroke-width="0.8"/>
<line x1="773.88" x2="773.88" y1="677.6" y2="682.0" stroke="#000" stroke-width="0.9"/>
<line x1="773.88" x2="773.88" y1="655.6" y2="656.8000000000001" stroke="#000" stroke-width="0.9"/>
<line x1="840.02" x2="840.02" y1="655.6" y2="682.0" stroke="#000" stroke-opacity="0.6" stroke-width="0.8"/>
<line x1="840.02" x2="840.02" y1="677.6" y2="682.0" stroke="#000" stroke-width="0.9"/>
<line x1="840.02" x2="840.02" y1="655.6" y2="656.8000000000001" stroke="#000" stroke-width="0.9"/>
<line x1="906.16" x2="906.16" y1="655.6" y2="682.0" stroke="#000" stroke-opacity="0.6" stroke-width="0.8"/>
<line x1="906.16" x2="906.16" y1="677.6" y2="682.0" stroke="#000" stroke-width="0.9"/>
<line x1="906.16" x2="906.16" y1="655.6" y2="656.8000000000001" stroke="#000" stroke-width="0.9"/>
<line x1="972.30" x2="972.30" y1="655.6" y2="682.0" stroke="#000" stroke-opacity="0.6" stroke-width="0.8"/>
<line x1="972.30" x2="972.30" y1="677.6" y2="682.0" stroke="#000" stroke-width="0.9"/>
<line x1="972.30" x2="972.30" y1="655.6" y2="656.8000000000001" stroke="#000" stroke-width="0.9"/>
<polygon points="115.2,668.8 178.6,655.6 972.3,655.6 1035,668.8 972.3,682.0 178.6,682.0" fill="none" stroke="#000" stroke-width="1" stroke-linejoin="miter"/>
</g>
<g style="will-change:opacity">
<text x="258.32" y="21.6" font-size="21.2" fill="#000" textLength="107.30" lengthAdjust="spacingAndGlyphs">Difference</text>
<text x="374.09" y="21.6" font-size="21.2" fill="#000" textLength="48.45" lengthAdjust="spacingAndGlyphs">from</text>
<text x="428.45" y="21.6" font-size="21.2" fill="#000" textLength="84.02" lengthAdjust="spacingAndGlyphs">average</text>
<text x="520.13" y="21.6" font-size="21.2" fill="#000" textLength="58.84" lengthAdjust="spacingAndGlyphs">mean</text>
<text x="585.72" y="21.6" font-size="21.2" fill="#000" textLength="99.12" lengthAdjust="spacingAndGlyphs">minimum</text>
<text x="691.37" y="21.6" font-size="21.2" fill="#000" textLength="130.39" lengthAdjust="spacingAndGlyphs">temperature</text>
<text x="829.24" y="21.6" font-size="21.2" fill="#000" textLength="82.63" lengthAdjust="spacingAndGlyphs">forecast</text>
<text x="920.62" y="21.6" font-size="21.2" fill="#000" textLength="27.30" lengthAdjust="spacingAndGlyphs">for</text>
<text x="519.12" y="45.9" font-size="21.2" fill="#000" textLength="108.06" lengthAdjust="spacingAndGlyphs">December</text>
<text x="634.25" y="45.9" font-size="21.2" fill="#000" textLength="52.04" lengthAdjust="spacingAndGlyphs">2025</text>
<text x="11.56" y="42.9" font-size="12.7" fill="#000" textLength="138.53" lengthAdjust="spacingAndGlyphs">Base period: 1981-2018</text>
<text x="11.72" y="58.0" font-size="12.7" fill="#000" textLength="106.54" lengthAdjust="spacingAndGlyphs">Model: ACCESS-S2</text>
<text x="1007.50" y="43.4" font-size="12.7" fill="#000" textLength="131.31" lengthAdjust="spacingAndGlyphs">Model run: 06/10/2025</text>
<text x="1027.57" y="58.4" font-size="12.7" fill="#000" textLength="111.28" lengthAdjust="spacingAndGlyphs">Issued: 09/10/2025</text>
<text x="22.86" y="94.4" font-size="14.1" fill="#000" textLength="24.94" lengthAdjust="spacingAndGlyphs">6°S</text>
<text x="23.09" y="162.1" font-size="14.1" fill="#000" textLength="24.59" lengthAdjust="spacingAndGlyphs">7°S</text>
<text x="23.06" y="229.8" font-size="14.1" fill="#000" textLength="24.74" lengthAdjust="spacingAndGlyphs">8°S</text>
<text x="22.99" y="297.5" font-size="14.1" fill="#000" textLength="24.68" lengthAdjust="spacingAndGlyphs">9°S</text>
<text x="14.68" y="365.2" font-size="14.1" fill="#000" textLength="33.00" lengthAdjust="spacingAndGlyphs">10°S</text>
<text x="14.51" y="432.9" font-size="14.1" fill="#000" textLength="33.29" lengthAdjust="spacingAndGlyphs">11°S</text>
<text x="14.68" y="500.6" font-size="14.1" fill="#000" textLength="33.00" lengthAdjust="spacingAndGlyphs">12°S</text>
<text x="91.97" y="620.1" font-size="14.1" fill="#000" textLength="40.89" lengthAdjust="spacingAndGlyphs">156°E</text>
<text x="159.58" y="620.1" font-size="14.1" fill="#000" textLength="41.22" lengthAdjust="spacingAndGlyphs">157°E</text>
<text x="227.43" y="620.1" font-size="14.1" fill="#000" textLength="41.02" lengthAdjust="spacingAndGlyphs">158°E</text>
<text x="294.97" y="620.1" font-size="14.1" fill="#000" textLength="40.89" lengthAdjust="spacingAndGlyphs">159°E</text>
<text x="362.58" y="620.1" font-size="14.1" fill="#000" textLength="41.22" lengthAdjust="spacingAndGlyphs">160°E</text>
<text x="430.43" y="620.1" font-size="14.1" fill="#000" textLength="40.79" lengthAdjust="spacingAndGlyphs">161°E</text>
<text x="497.97" y="620.1" font-size="14.1" fill="#000" textLength="40.89" lengthAdjust="spacingAndGlyphs">162°E</text>
<text x="565.44" y="620.1" font-size="14.1" fill="#000" textLength="41.10" lengthAdjust="spacingAndGlyphs">163°E</text>
<text x="633.10" y="620.1" font-size="14.1" fill="#000" textLength="41.02" lengthAdjust="spacingAndGlyphs">164°E</text>
<text x="700.76" y="620.1" font-size="14.1" fill="#000" textLength="41.00" lengthAdjust="spacingAndGlyphs">165°E</text>
<text x="768.40" y="620.1" font-size="14.1" fill="#000" textLength="41.26" lengthAdjust="spacingAndGlyphs">166°E</text>
<text x="836.10" y="620.1" font-size="14.1" fill="#000" textLength="41.01" lengthAdjust="spacingAndGlyphs">167°E</text>
<text x="903.76" y="620.1" font-size="14.1" fill="#000" textLength="41.00" lengthAdjust="spacingAndGlyphs">168°E</text>
<text x="971.44" y="620.1" font-size="14.1" fill="#000" textLength="41.00" lengthAdjust="spacingAndGlyphs">169°E</text>
<text x="1039.10" y="620.1" font-size="14.1" fill="#000" textLength="41.01" lengthAdjust="spacingAndGlyphs">170°E</text>
<text x="329.48" y="174.8" font-size="12.7" fill="#000" textLength="33.78" lengthAdjust="spacingAndGlyphs">Isabel</text>
<text x="133.84" y="296.4" font-size="12.7" fill="#000" textLength="46.21" lengthAdjust="spacingAndGlyphs">Western</text>
<text x="483.76" y="242.7" font-size="12.7" fill="#000" textLength="41.31" lengthAdjust="spacingAndGlyphs">Malaita</text>
<text x="562.80" y="459.0" font-size="12.7" fill="#000" textLength="76.66" lengthAdjust="spacingAndGlyphs">Makira-Ulawa</text>
<text x="759.57" y="479.8" font-size="12.7" fill="#000" textLength="43.77" lengthAdjust="spacingAndGlyphs">Temotu</text>
<text x="325.78" y="391.9" font-size="12.7" fill="#000" textLength="71.44" lengthAdjust="spacingAndGlyphs">Guadalcanal</text>
<text x="247.30" y="480.0" font-size="12.7" fill="#000" textLength="102.91" lengthAdjust="spacingAndGlyphs">Rennell &amp; Bellona</text>
<text x="227.84" y="134.9" font-size="12.7" fill="#000" textLength="48.57" lengthAdjust="spacingAndGlyphs">Choiseul</text>
<text x="329.23" y="289.6" font-size="12.7" fill="#000" textLength="41.16" lengthAdjust="spacingAndGlyphs">Central</text>
<text x="82.55" y="592.2" font-size="12.7" fill="#857b7b" textLength="8.88" lengthAdjust="spacingAndGlyphs">©</text>
<text x="96.09" y="592.2" font-size="12.7" fill="#857b7b" textLength="91.71" lengthAdjust="spacingAndGlyphs">Commonwealth</text>
<text x="191.25" y="592.2" font-size="12.7" fill="#857b7b" textLength="10.30" lengthAdjust="spacingAndGlyphs">of</text>
<text x="204.80" y="592.2" font-size="12.7" fill="#857b7b" textLength="50.77" lengthAdjust="spacingAndGlyphs">Australia</text>
<text x="260.07" y="592.2" font-size="12.7" fill="#857b7b" textLength="31.92" lengthAdjust="spacingAndGlyphs">2025,</text>
<text x="296.34" y="592.2" font-size="12.7" fill="#857b7b" textLength="41.46" lengthAdjust="spacingAndGlyphs">Bureau</text>
<text x="341.93" y="592.2" font-size="12.7" fill="#857b7b" textLength="10.11" lengthAdjust="spacingAndGlyphs">of</text>
<text x="355.82" y="592.2" font-size="12.7" fill="#857b7b" textLength="75.57" lengthAdjust="spacingAndGlyphs">Meteorology,</text>
<text x="435.73" y="592.2" font-size="12.7" fill="#857b7b" textLength="57.61" lengthAdjust="spacingAndGlyphs">supported</text>
<text x="496.88" y="592.2" font-size="12.7" fill="#857b7b" textLength="13.70" lengthAdjust="spacingAndGlyphs">by</text>
<text x="514.93" y="592.2" font-size="12.7" fill="#857b7b" textLength="51.96" lengthAdjust="spacingAndGlyphs">COSPPac</text>
<text x="170.92" y="698.6" font-size="16.6" fill="#000" textLength="15.18" lengthAdjust="spacingAndGlyphs">-6</text>
<text x="237.23" y="698.6" font-size="16.6" fill="#000" textLength="14.83" lengthAdjust="spacingAndGlyphs">-5</text>
<text x="303.20" y="698.6" font-size="16.6" fill="#000" textLength="14.62" lengthAdjust="spacingAndGlyphs">-4</text>
<text x="369.54" y="698.6" font-size="16.6" fill="#000" textLength="14.80" lengthAdjust="spacingAndGlyphs">-3</text>
<text x="435.70" y="698.6" font-size="16.6" fill="#000" textLength="14.85" lengthAdjust="spacingAndGlyphs">-2</text>
<text x="501.69" y="698.6" font-size="16.6" fill="#000" textLength="14.92" lengthAdjust="spacingAndGlyphs">-1</text>
<text x="570.60" y="698.6" font-size="16.6" fill="#000" textLength="9.58" lengthAdjust="spacingAndGlyphs">0</text>
<text x="636.00" y="698.6" font-size="16.6" fill="#000" textLength="10.52" lengthAdjust="spacingAndGlyphs">1</text>
<text x="702.72" y="698.6" font-size="16.6" fill="#000" textLength="9.95" lengthAdjust="spacingAndGlyphs">2</text>
<text x="768.69" y="698.6" font-size="16.6" fill="#000" textLength="10.19" lengthAdjust="spacingAndGlyphs">3</text>
<text x="835.62" y="698.6" font-size="16.6" fill="#000" textLength="9.11" lengthAdjust="spacingAndGlyphs">4</text>
<text x="900.89" y="698.6" font-size="16.6" fill="#000" textLength="10.17" lengthAdjust="spacingAndGlyphs">5</text>
<text x="967.40" y="698.6" font-size="16.6" fill="#000" textLength="9.96" lengthAdjust="spacingAndGlyphs">6</text>
<text x="439.47" y="727.9" font-size="18.2" fill="#000" textLength="95.07" lengthAdjust="spacingAndGlyphs">Difference</text>
<text x="541.92" y="727.9" font-size="18.2" fill="#000" textLength="41.71" lengthAdjust="spacingAndGlyphs">from</text>
<text x="589.98" y="727.9" font-size="18.2" fill="#000" textLength="72.22" lengthAdjust="spacingAndGlyphs">average</text>
<text x="670.67" y="727.9" font-size="18.2" fill="#000" textLength="5.67" lengthAdjust="spacingAndGlyphs">(</text>
<text x="691.13" y="727.9" font-size="18.2" fill="#000" textLength="12.81" lengthAdjust="spacingAndGlyphs">C</text>
<text x="705.37" y="727.9" font-size="18.2" fill="#000" textLength="4.97" lengthAdjust="spacingAndGlyphs">)</text>
<text x="11.84" y="750.6" font-size="12.7" fill="#000" textLength="8.16" lengthAdjust="spacingAndGlyphs">--</text>
<text x="26.98" y="750.6" font-size="12.7" fill="#000" textLength="8.81" lengthAdjust="spacingAndGlyphs">--</text>
<text x="42.46" y="750.6" font-size="12.7" fill="#000" textLength="8.86" lengthAdjust="spacingAndGlyphs">--</text>
<text x="54.83" y="750.6" font-size="12.7" fill="#000" textLength="22.61" lengthAdjust="spacingAndGlyphs">EEZ</text>
<text x="81.11" y="750.6" font-size="12.7" fill="#000" textLength="35.77" lengthAdjust="spacingAndGlyphs">border</text>
<text x="121.70" y="750.6" font-size="12.7" fill="#000" textLength="22.65" lengthAdjust="spacingAndGlyphs">V11</text>
<text x="148.83" y="750.6" font-size="12.7" fill="#000" textLength="53.99" lengthAdjust="spacingAndGlyphs">(Flanders</text>
<text x="206.07" y="750.6" font-size="12.7" fill="#000" textLength="38.72" lengthAdjust="spacingAndGlyphs">Marine</text>
<text x="249.02" y="750.6" font-size="12.7" fill="#000" textLength="51.79" lengthAdjust="spacingAndGlyphs">Institute,</text>
<text x="304.78" y="750.6" font-size="12.7" fill="#000" textLength="37.21" lengthAdjust="spacingAndGlyphs">2019).</text>
<circle cx="684.2" cy="718.0" r="2.4" fill="none" stroke="#000" stroke-width="1.0"/>
</g>
</svg>
</body></html>
